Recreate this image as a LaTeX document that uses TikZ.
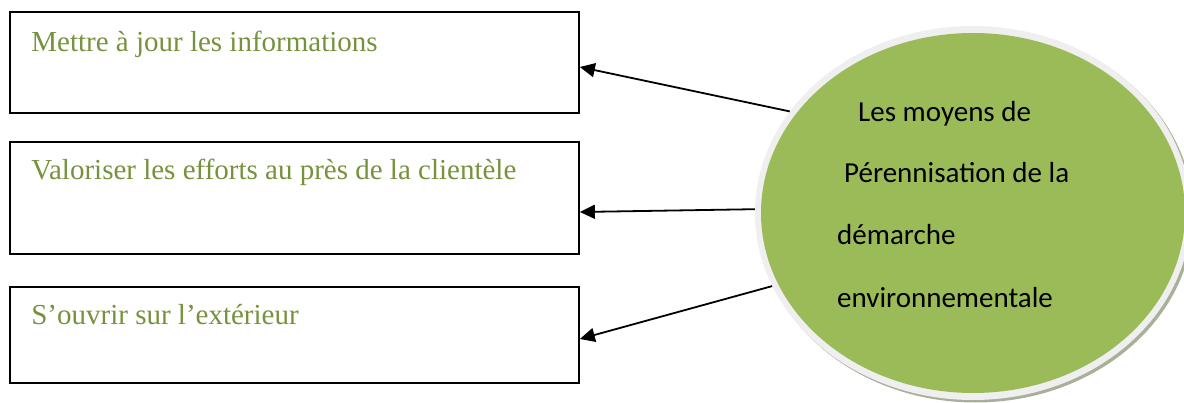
\documentclass[tikz,border=0pt]{standalone}
\usepackage{fontspec}
\setmainfont{Liberation Serif}
\newfontfamily\calib{Carlito}
\usetikzlibrary{arrows.meta,shapes.geometric}
\definecolor{olivetext}{HTML}{76923C}
\definecolor{ovalgreen}{HTML}{9BBB59}
\definecolor{rimgray}{HTML}{EFEFEF}
\definecolor{shadowgray}{HTML}{A8B09A}
\begin{document}
\begin{tikzpicture}[x=1pt,y=-1pt,
  boxstyle/.style={draw=black, line width=1.7pt, minimum width=569pt, inner sep=0pt, rectangle},
  boxtext/.style={anchor=base west, inner sep=0pt, text=olivetext, font=\fontsize{29}{35}\selectfont},
  ovaltext/.style={anchor=base west, inner sep=0pt, text=black, font=\calib\fontsize{29}{35}\selectfont},
  conn/.style={line width=1.8pt, -{Triangle[length=15pt,width=14pt]}}]
\useasboundingbox (0,0) rectangle (1184,403);
% boxes
\node[boxstyle, minimum height=101pt] (b1) at (294.5,62.5) {};
\node[boxstyle, minimum height=112pt] (b2) at (294.5,198) {};
\node[boxstyle, minimum height=96pt] (b3) at (294.5,335) {};
\node[boxtext] (l1) at ([xshift=22pt,yshift=-40pt]b1.north west) {Mettre à jour les informations};
\node[boxtext] (l2) at ([xshift=22pt,yshift=-38pt]b2.north west) {Valoriser les efforts au près de la clientèle};
\node[boxtext] (l3) at ([xshift=22pt,yshift=-38pt]b3.north west) {S’ouvrir sur l’extérieur};
% oval
\fill[shadowgray] (975.5,215.5) ellipse [x radius=218, y radius=187];
\node[ellipse, fill=rimgray, minimum width=436pt, minimum height=374pt, inner sep=0pt] (e) at (973,213) {};
\fill[ovalgreen] (e.center) ellipse [x radius=212, y radius=180];
\node[ovaltext] (t1) at (858,122) {Les moyens de};
\node[ovaltext] (t2) at (844,183) {Pérennisation de la};
\node[ovaltext] (t3) at (837,245) {démarche};
\node[ovaltext] (t4) at (837,308) {environnementale};
% connectors
\draw[conn] (e.151) -- ([yshift=-4.5pt]b1.east);
\draw[conn] (e.179.4) -- ([yshift=-14pt]b2.east);
\draw[conn] (e.200.4) -- ([yshift=-4pt]b3.east);
\end{tikzpicture}
\end{document}
